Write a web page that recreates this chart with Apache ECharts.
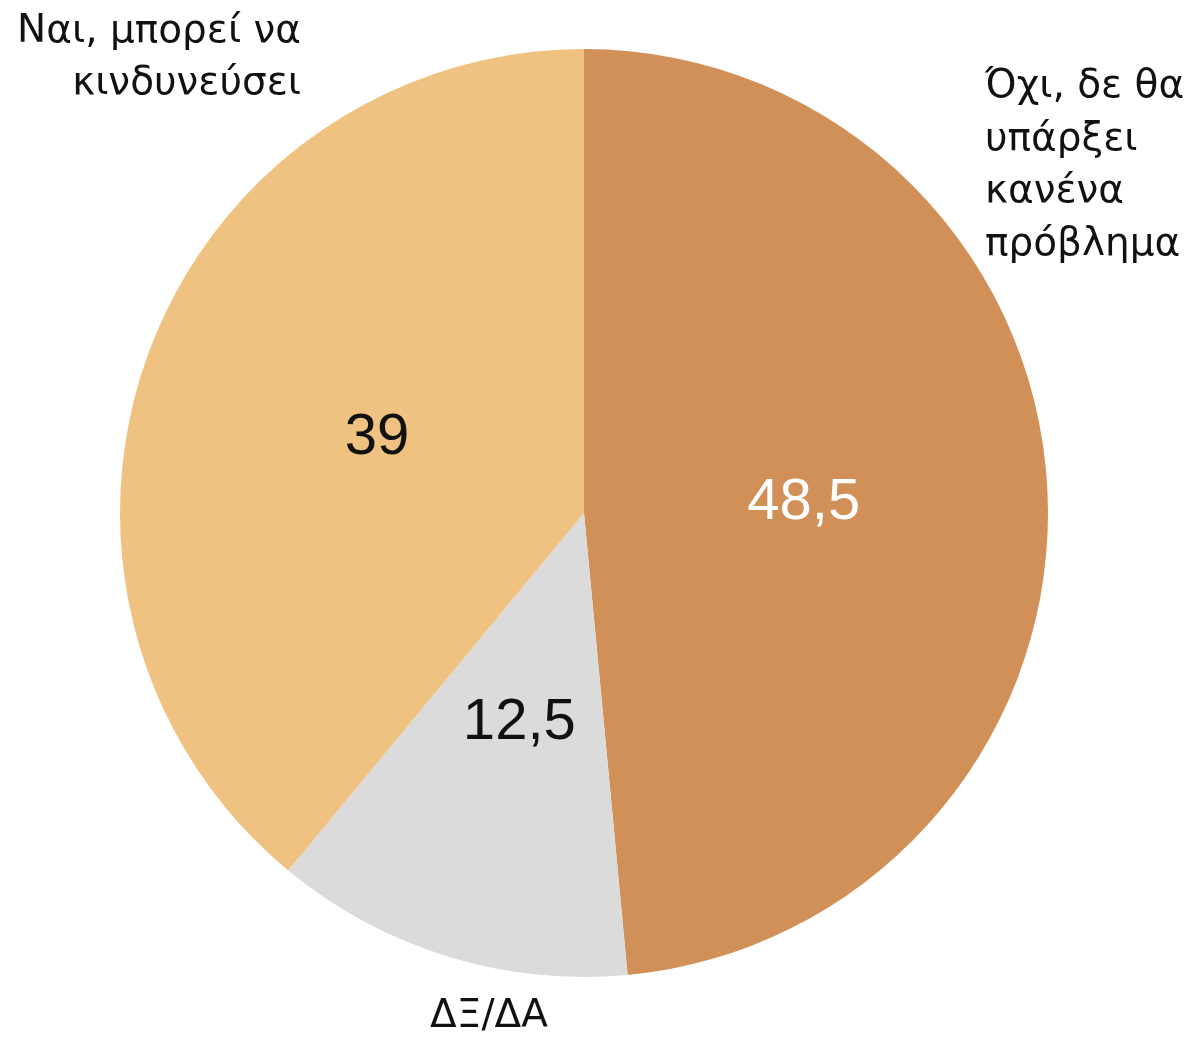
<!DOCTYPE html>
<html>
<head>
<meta charset="utf-8">
<script src="https://cdn.jsdelivr.net/npm/echarts@6/dist/echarts.min.js"></script>
<style>html,body{margin:0;padding:0;background:#fff}#c{width:1195px;height:1037px}</style>
</head>
<body>
<div id="c"></div>
<script>
const categories = ['Όχι, δε θα\nυπάρξει\nκανένα\nπρόβλημα', 'ΔΞ/ΔΑ', 'Ναι, μπορεί να\nκινδυνεύσει'];
const values = [48.5, 12.5, 39];
const valueLabels = ['48,5', '12,5', '39'];
const colors = ['#D09058', '#DBDBDB', '#EFC282'];
const labelColors = ['#ffffff', '#111111', '#111111'];

const chart = echarts.init(document.getElementById('c'));
const catFont = '39px "DejaVu Sans", sans-serif';
const valFont = '"Liberation Sans", Arial, sans-serif';
chart.setOption({
  animation: false,
  graphic: [
    { type: 'text', x: 301, y: 6,
      style: { text: categories[2], font: catFont, fill: '#111', align: 'right', verticalAlign: 'top', lineHeight: 52 } },
    { type: 'text', x: 985, y: 61,
      style: { text: categories[0], font: catFont, fill: '#111', align: 'left', verticalAlign: 'top', lineHeight: 52.5 } },
    { type: 'text', x: 489, y: 991,
      style: { text: categories[1], font: catFont, fill: '#111', align: 'center', verticalAlign: 'top', lineHeight: 52 } }
  ],
  series: [{
    type: 'pie',
    center: [584, 513],
    radius: [0, 464],
    startAngle: 90,
    clockwise: true,
    silent: true,
    data: values.map((v, i) => ({ value: v, name: categories[i], itemStyle: { color: colors[i] } })),
    label: { show: false },
    labelLine: { show: false },
    itemStyle: { borderWidth: 0 }
  }, {
    type: 'pie',
    center: [584, 513],
    radius: [0, 434],
    startAngle: 90,
    clockwise: true,
    silent: true,
    z: 3,
    data: values.map((v, i) => ({
      value: v, name: categories[i],
      itemStyle: { color: 'rgba(0,0,0,0)' },
      label: { color: labelColors[i], formatter: valueLabels[i] }
    })),
    label: { show: true, position: 'inside', fontSize: 58, fontFamily: valFont },
    labelLine: { show: false },
    itemStyle: { borderWidth: 0 }
  }]
});
</script>
</body>
</html>
